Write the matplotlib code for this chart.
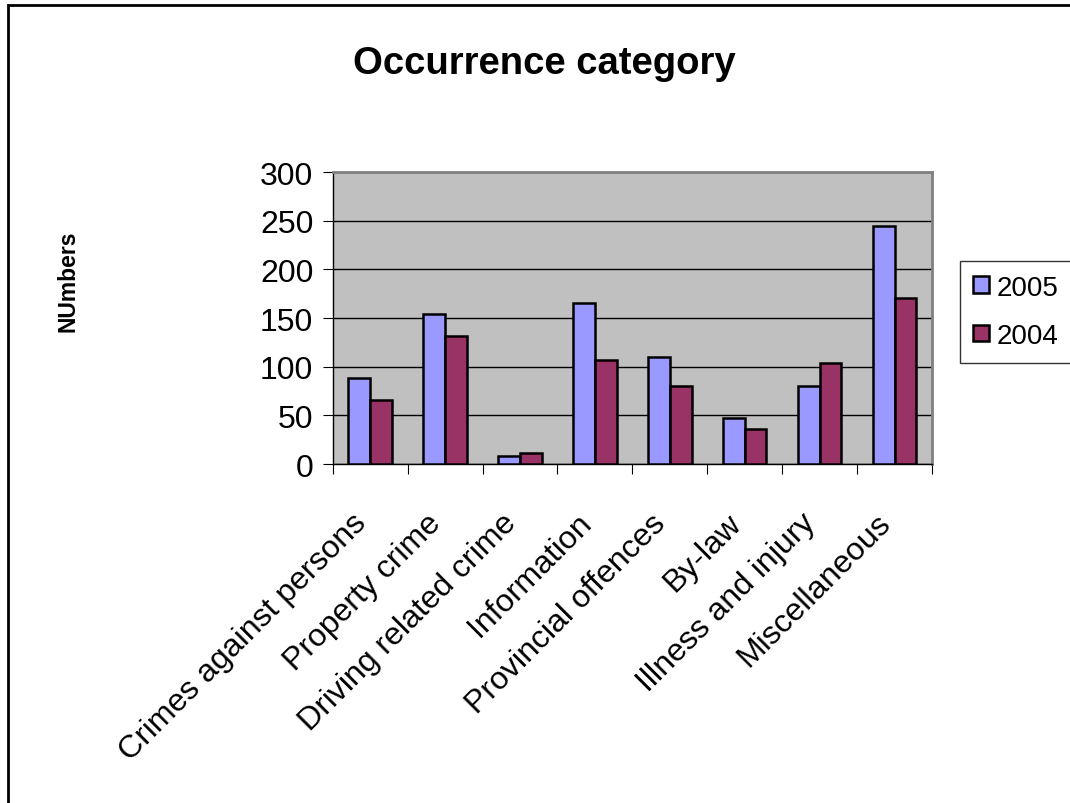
import matplotlib.pyplot as plt
import numpy as np
from matplotlib.patches import Rectangle
from matplotlib.transforms import ScaledTranslation

plt.rcParams['font.family'] = ['Liberation Sans', 'DejaVu Sans']

# Data
categories = ["Crimes against persons", "Property crime", "Driving related crime",
              "Information", "Provincial offences", "By-law",
              "Illness and injury", "Miscellaneous"]
vals_2005 = [88, 154, 8, 165, 110, 47, 80, 245]
vals_2004 = [66, 132, 11, 107, 80, 36, 104, 171]
yticks = [0, 50, 100, 150, 200, 250, 300]

fig = plt.figure(figsize=(10.7, 8.04), dpi=100)
ax = fig.add_axes([0.311, 0.4216, 0.560, 0.3632])

x = np.arange(len(categories))
w = 0.29
ax.bar(x - w / 2, vals_2005, w, color='#9999FF', edgecolor='black', linewidth=1.8,
       label='2005', zorder=3)
ax.bar(x + w / 2, vals_2004, w, color='#993366', edgecolor='black', linewidth=1.8,
       label='2004', zorder=3)

ax.set_facecolor('#C0C0C0')
ax.set_xlim(-0.5, len(categories) - 0.5)
ax.set_ylim(0, 300)
ax.set_yticks(yticks)
ax.yaxis.grid(True, color='black', linewidth=1)
ax.set_axisbelow(True)
for s in ['top', 'right']:
    ax.spines[s].set_color('#808080')
    ax.spines[s].set_linewidth(2)
for s in ['left', 'bottom']:
    ax.spines[s].set_color('black')
    ax.spines[s].set_linewidth(1)

# ticks at category boundaries, labels at centers
ax.set_xticks(np.arange(len(categories) + 1) - 0.5)
ax.set_xticklabels([])
ax.set_xticks(x, minor=True)
ax.set_xticklabels(categories, minor=True, rotation=45, ha='right', va='top',
                   rotation_mode='anchor', fontsize=23)
ax.tick_params(axis='x', which='minor', length=0, pad=14)
ax.tick_params(axis='x', which='major', direction='out', length=7)
ax.tick_params(axis='y', direction='out', length=7, labelsize=23, pad=7)
shift = ScaledTranslation(-0.19, -0.24, fig.dpi_scale_trans)
for lbl in ax.get_xticklabels(minor=True):
    lbl.set_transform(lbl.get_transform() + shift)

fig.text(0.064, 0.65, 'NUmbers', fontsize=16.5, fontweight='bold', rotation=90,
         ha='center', va='center')
fig.text(0.509, 0.92, 'Occurrence category', fontsize=27.5, fontweight='bold',
         ha='center', va='center')

leg = ax.legend(loc='upper left', bbox_to_anchor=(1.046, 0.696), fontsize=20,
                frameon=True, fancybox=False, edgecolor='black', handlelength=0.55,
                handleheight=0.55, handletextpad=0.3, labelspacing=0.8,
                borderpad=0.5, borderaxespad=0)
leg.get_frame().set_linewidth(1)

# outer frame (only left and top edges fall inside the picture)
fig.patches.append(Rectangle((8 / 1070, -0.05), 1.1, 1 - 6 / 804 + 0.05,
                             transform=fig.transFigure, fill=False,
                             edgecolor='black', linewidth=2))

fig.savefig('out.png', dpi=100)
